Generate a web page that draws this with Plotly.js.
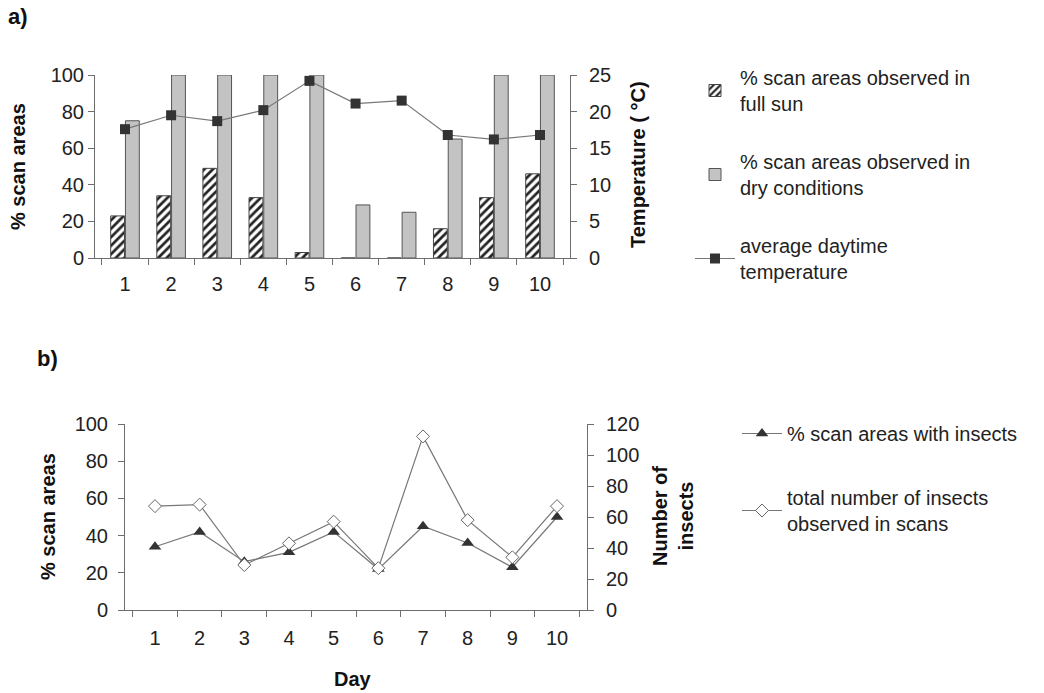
<!DOCTYPE html>
<html>
<head>
<meta charset="utf-8">
<script src="https://cdn.plot.ly/plotly-3.0.1.min.js"></script>
<style>html,body{margin:0;padding:0;background:#fff;}#chart{width:1044px;height:693px;}</style>
</head>
<body>
<div id="chart"></div>
<script>
// ---- data ----
const days = ['1','2','3','4','5','6','7','8','9','10'];
const fullSunPct = [23, 34, 49, 33, 3, 0, 0, 16, 33, 46];
const dryPct = [75, 100, 100, 100, 100, 29, 25, 65, 100, 100];
const avgTemp = [17.6, 19.5, 18.7, 20.2, 24.2, 21.1, 21.5, 16.8, 16.2, 16.8];
const insectPct = [34, 42, 26, 31, 42, 22, 45, 36, 23, 50];
const insectTotal = [67, 68, 29, 43, 57, 27, 112, 58, 34, 67];
const leftTicksPct = [0, 20, 40, 60, 80, 100];
const tempTicks = [0, 5, 10, 15, 20, 25];
const insectTicks = [0, 20, 40, 60, 80, 100, 120];

// ---- helpers (pixel -> paper) ----
const W = 1044, H = 693;
const px = x => x / W;
const py = y => 1 - y / H;

const FONT = 'Liberation Sans, Arial, sans-serif';
const AX = '#6e6e6e';
const tickFont = {family: FONT, size: 20, color: '#222'};

const traces = [
  {type: 'bar', x: days, y: fullSunPct, xaxis: 'x', yaxis: 'y',
   name: '% scan areas observed in<br>full sun', legend: 'legend', legendgroup: 'a1',
   marker: {color: '#ffffff', line: {color: '#444', width: 1},
            pattern: {shape: '/', fgcolor: '#222', bgcolor: '#ffffff', size: 6, solidity: 0.45}}},
  {type: 'bar', x: days, y: dryPct, xaxis: 'x', yaxis: 'y',
   name: '% scan areas observed in<br>dry conditions', legend: 'legend', legendgroup: 'a2',
   marker: {color: '#c3c3c3', line: {color: '#555', width: 1}}},
  {type: 'scatter', mode: 'lines+markers', x: days, y: avgTemp, xaxis: 'x', yaxis: 'y2',
   name: 'average daytime<br>temperature', legend: 'legend', legendgroup: 'a3',
   line: {color: '#777', width: 1.2},
   marker: {symbol: 'square', size: 10, color: '#333'}},
  {type: 'scatter', mode: 'lines+markers', x: days, y: insectPct, xaxis: 'x2', yaxis: 'y3',
   name: '% scan areas with insects', legend: 'legend2', legendgroup: 'b1',
   line: {color: '#777', width: 1.2},
   marker: {symbol: 'triangle-up', size: 11, color: '#333'}},
  {type: 'scatter', mode: 'lines+markers', x: days, y: insectTotal, xaxis: 'x2', yaxis: 'y4',
   name: 'total number of insects<br>observed in scans', legend: 'legend2', legendgroup: 'b2',
   line: {color: '#777', width: 1.2},
   marker: {symbol: 'diamond', size: 10, color: '#ffffff', line: {color: '#666', width: 1}}}
];

const xCommon = {type: 'category', showline: true, linecolor: AX, linewidth: 1,
  ticks: 'outside', tickson: 'boundaries', ticklen: 6, tickcolor: AX,
  showgrid: false, zeroline: false, tickfont: tickFont, ticklabelstandoff: 8, fixedrange: true};
const yCommon = {showline: true, linecolor: AX, linewidth: 1, ticks: 'outside', ticklen: 6,
  tickcolor: AX, showgrid: false, zeroline: false, tickfont: tickFont, fixedrange: true};

const ann = (text, x, y, angle, size) => ({
  text: text, xref: 'paper', yref: 'paper', x: px(x), y: py(y), showarrow: false,
  textangle: angle || 0, xanchor: 'center', yanchor: 'middle',
  font: {family: FONT, size: size || 20, color: '#111', weight: 'bold'}
});

const layout = {
  width: W, height: H,
  margin: {l: 0, r: 0, t: 0, b: 0},
  paper_bgcolor: '#fff', plot_bgcolor: 'rgba(0,0,0,0)',
  barmode: 'group', bargap: 0.36, bargroupgap: 0.06,
  showlegend: true,
  xaxis: Object.assign({}, xCommon, {domain: [px(95), px(570)], anchor: 'y'}),
  yaxis: Object.assign({}, yCommon, {domain: [py(258), py(75)], range: [0, 100], tickvals: leftTicksPct, anchor: 'x'}),
  yaxis2: Object.assign({}, yCommon, {overlaying: 'y', side: 'right', anchor: 'x', range: [0, 25], tickvals: tempTicks, ticklabelstandoff: 8}),
  xaxis2: Object.assign({}, xCommon, {domain: [px(125), px(587)], anchor: 'y3', ticklabelstandoff: 10}),
  yaxis3: Object.assign({}, yCommon, {domain: [py(610), py(424)], range: [0, 100], tickvals: leftTicksPct, anchor: 'x2', ticklabelstandoff: 6}),
  yaxis4: Object.assign({}, yCommon, {overlaying: 'y3', side: 'right', anchor: 'x2', range: [0, 120], tickvals: insectTicks, ticklabelstandoff: 8}),
  legend: {x: px(690), y: py(58), xanchor: 'left', yanchor: 'top', itemwidth: 40,
           tracegroupgap: 29, bgcolor: 'rgba(0,0,0,0)', font: {family: FONT, size: 20, color: '#222'},
           traceorder: 'grouped'},
  legend2: {x: px(737), y: py(414), xanchor: 'left', yanchor: 'top', itemwidth: 40,
            tracegroupgap: 35, bgcolor: 'rgba(0,0,0,0)', font: {family: FONT, size: 20, color: '#222'},
            traceorder: 'grouped'},
  annotations: [
    ann('a)', 18, 17, 0, 22),
    ann('b)', 47, 358, 0, 22),
    ann('% scan areas', 18, 167, -90),
    ann('Temperature ( °C)', 638, 165, -90),
    ann('% scan areas', 48, 517, -90),
    ann('Number of<br>insects', 673, 516, -90),
    ann('Day', 353, 679, 0)
  ]
};

Plotly.newPlot('chart', traces, layout, {displayModeBar: false, staticPlot: true});
</script>
</body>
</html>
